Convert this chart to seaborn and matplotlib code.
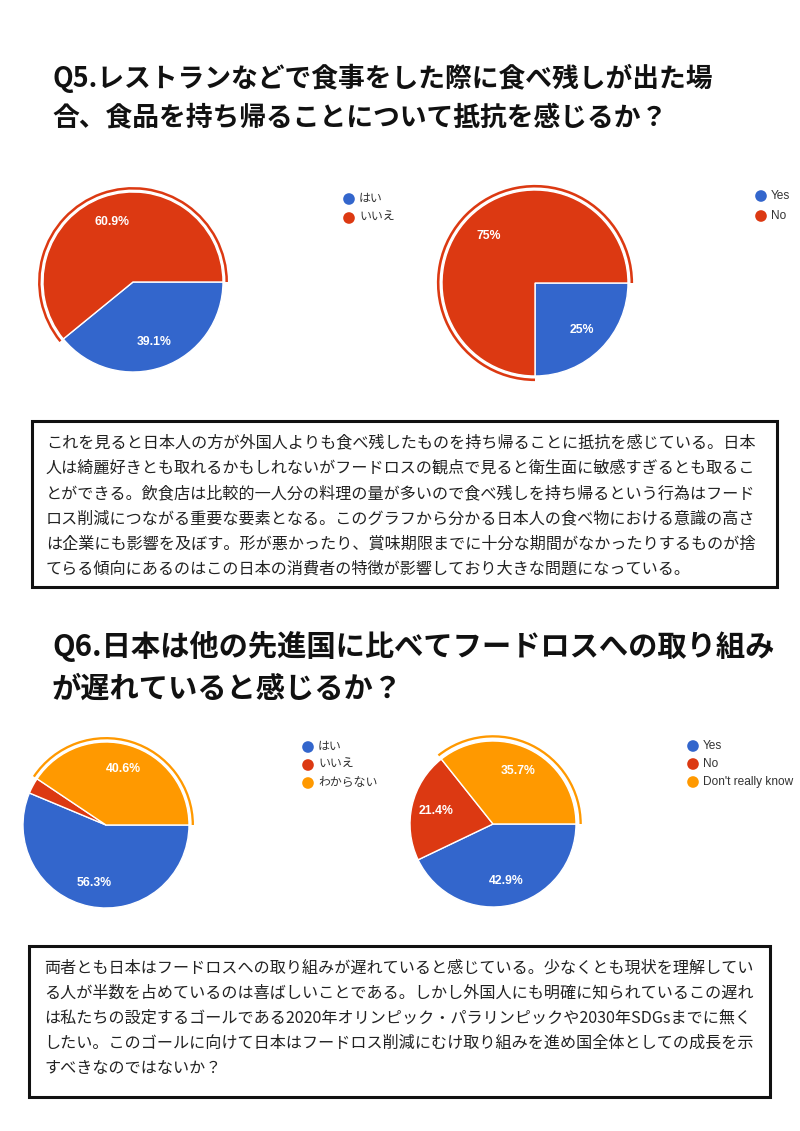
import matplotlib
matplotlib.use("Agg")
import matplotlib.pyplot as plt
import seaborn as sns
from matplotlib.patches import Rectangle

sns.set_theme(style="white")
plt.rcParams['font.family'] = ['Liberation Sans', 'Noto Sans CJK JP', 'DejaVu Sans']

# ---------------- data ----------------
q5_title = ["Q5.レストランなどで食事をした際に食べ残しが出た場",
            "合、食品を持ち帰ることについて抵抗を感じるか？"]
q6_title = ["Q6.日本は他の先進国に比べてフードロスへの取り組み",
            "が遅れていると感じるか？"]

q5_jp_labels = ["はい", "いいえ"]
q5_jp_values = [39.1, 60.9]
q5_en_labels = ["Yes", "No"]
q5_en_values = [25, 75]

q6_jp_labels = ["はい", "いいえ", "わからない"]
q6_jp_values = [56.3, 3.1, 40.6]
q6_en_labels = ["Yes", "No", "Don't really know"]
q6_en_values = [42.9, 21.4, 35.7]

q5_comment = [
    "これを見ると日本人の方が外国人よりも食べ残したものを持ち帰ることに抵抗を感じている。日本",
    "人は綺麗好きとも取れるかもしれないがフードロスの観点で見ると衛生面に敏感すぎるとも取るこ",
    "とができる。飲食店は比較的一人分の料理の量が多いので食べ残しを持ち帰るという行為はフード",
    "ロス削減につながる重要な要素となる。このグラフから分かる日本人の食べ物における意識の高さ",
    "は企業にも影響を及ぼす。形が悪かったり、賞味期限までに十分な期間がなかったりするものが捨",
    "てらる傾向にあるのはこの日本の消費者の特徴が影響しており大きな問題になっている。",
]
q6_comment = [
    "両者とも日本はフードロスへの取り組みが遅れていると感じている。少なくとも現状を理解してい",
    "る人が半数を占めているのは喜ばしいことである。しかし外国人にも明確に知られているこの遅れ",
    "は私たちの設定するゴールである2020年オリンピック・パラリンピックや2030年SDGsまでに無く",
    "したい。このゴールに向けて日本はフードロス削減にむけ取り組みを進め国全体としての成長を示",
    "すべきなのではないか？",
]

palette = sns.color_palette(["#3366CC", "#DC3912", "#FF9900"])

# ---------------- figure ----------------
W, H = 800, 1131
fig = plt.figure(figsize=(W / 100, H / 100), dpi=100)
fig.patch.set_facecolor("white")

overlay = fig.add_axes([0, 0, 1, 1])
overlay.set_xlim(0, W)
overlay.set_ylim(H, 0)
overlay.axis("off")

JP = ['Noto Sans CJK JP', 'DejaVu Sans']

# titles
for i, line in enumerate(q5_title):
    overlay.text(52, [78, 117][i], line, fontsize=19.3, fontweight="bold",
                 family=JP, color="#111111", va="center", ha="left")
for i, line in enumerate(q6_title):
    overlay.text(52, [646, 689][i], line, fontsize=21.1, fontweight="bold",
                 family=JP, color="#111111", va="center", ha="left")

# comment boxes
overlay.add_patch(Rectangle((32, 421), 745, 166, fill=False, edgecolor="#111111", linewidth=2.2))
for i, line in enumerate(q5_comment):
    overlay.text(46, 443 + i * 25.2, line, fontsize=11.6, family=JP,
                 color="#222222", va="center", ha="left")

overlay.add_patch(Rectangle((29, 946), 741, 151, fill=False, edgecolor="#111111", linewidth=2.2))
for i, line in enumerate(q6_comment):
    overlay.text(44, 968 + i * 25.2, line, fontsize=11.6, family=JP,
                 color="#222222", va="center", ha="left")


def fmt_pct(p):
    if p < 5:
        return ""
    s = f"{p:.1f}"
    if s.endswith(".0"):
        s = s[:-2]
    return s + "%"


def draw_pie(cx, cy, r, values, highlight, ring_r=1.06):
    pad = 1.2
    rect = [(cx - pad * r) / W, 1 - (cy + pad * r) / H, 2 * pad * r / W, 2 * pad * r / H]
    ax = fig.add_axes(rect)
    cols = [palette[i] for i in range(len(values))]
    ax.pie(values, colors=cols, startangle=0, counterclock=False,
           autopct=fmt_pct, pctdistance=0.71,
           wedgeprops=dict(edgecolor="white", linewidth=1.0),
           textprops=dict(color="white", fontsize=8.8, fontweight="bold",
                          family=['Liberation Sans']))
    ring_cols = [cols[i] if i == highlight else (0, 0, 0, 0) for i in range(len(values))]
    ax.pie(values, colors=ring_cols, startangle=0, counterclock=False,
           radius=ring_r, wedgeprops=dict(width=0.028, edgecolor="none", linewidth=0))
    ax.set_xlim(-pad, pad)
    ax.set_ylim(-pad, pad)
    ax.set_aspect("equal")
    ax.axis("off")
    return ax


def draw_legend(x, y0, dy, labels):
    for i, lab in enumerate(labels):
        yy = y0 + i * dy
        overlay.scatter([x], [yy], s=70, color=palette[i], edgecolors="none")
        overlay.text(x + 10, yy, lab, fontsize=8.6, color="#333333",
                     va="center", ha="left",
                     family=['Liberation Sans', 'Noto Sans CJK JP'])


draw_pie(133, 282, 90, q5_jp_values, highlight=1, ring_r=1.055)
draw_pie(535, 283, 93, q5_en_values, highlight=1, ring_r=1.055)
draw_pie(106, 825, 83, q6_jp_values, highlight=2, ring_r=1.06)
draw_pie(493, 824, 83, q6_en_values, highlight=2, ring_r=1.07)

draw_legend(349, 199, 19, q5_jp_labels)
draw_legend(761, 196, 20, q5_en_labels)
draw_legend(308, 747, 18, q6_jp_labels)
draw_legend(693, 746, 18, q6_en_labels)

fig.savefig("out.png", dpi=100, facecolor="white")
